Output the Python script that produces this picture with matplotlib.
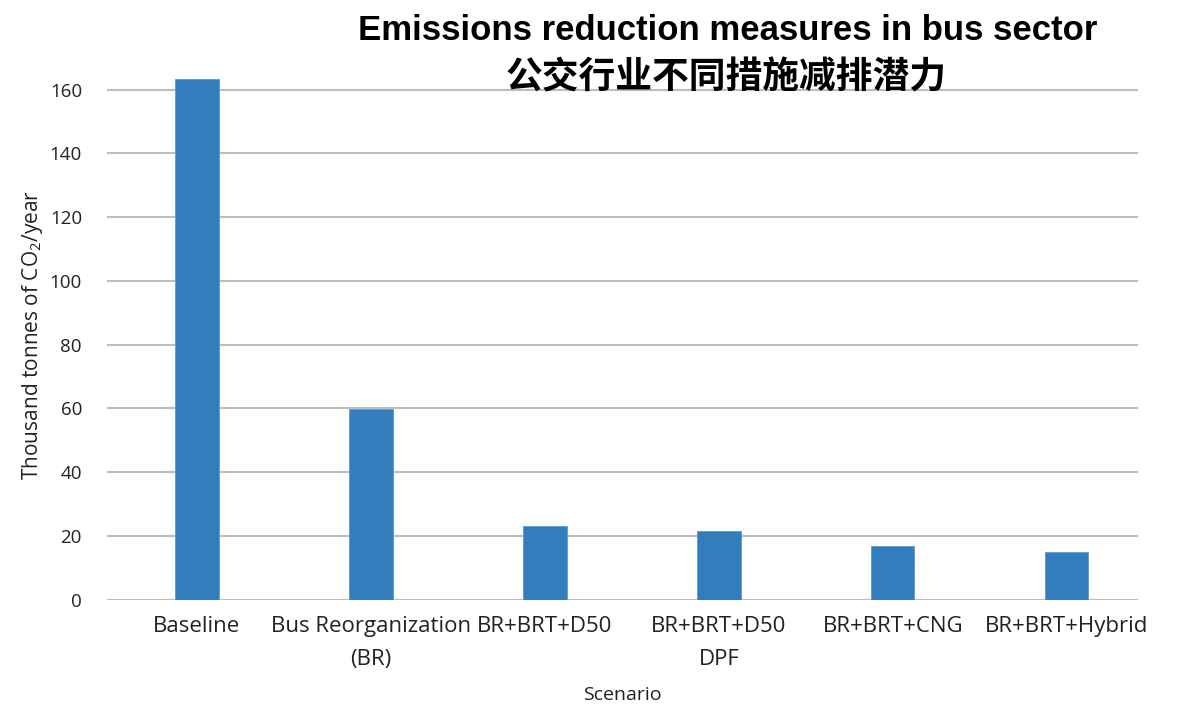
import matplotlib
matplotlib.use("Agg")
import matplotlib.pyplot as plt
import numpy as np

# Scenario data: annual CO2 emissions of the bus fleet (thousand tonnes)
scenarios = [
    "Baseline",
    "Bus Reorganization\n(BR)",
    "BR+BRT+D50",
    "BR+BRT+D50\nDPF",
    "BR+BRT+CNG",
    "BR+BRT+Hybrid",
]
emissions = [163.3, 59.8, 23.1, 21.5, 16.9, 14.8]
y_ticks = [0, 20, 40, 60, 80, 100, 120, 140, 160]

title_en = "Emissions reduction measures in bus sector"
title_zh = "公交行业不同措施减排潜力"

plt.rcParams["font.family"] = ["Open Sans", "DejaVu Sans"]
plt.rcParams["mathtext.default"] = "regular"

fig = plt.figure(figsize=(11.91, 7.04), dpi=100)
ax = fig.add_axes([0.0898, 0.1482, 0.8657, 0.7515])

x = np.arange(len(scenarios))
ax.bar(x, emissions, width=0.25, color="#337dbd", edgecolor="#5b9bd5",
       linewidth=0.6, zorder=3)

ax.set_xlim(-0.517, 5.41)
ax.set_ylim(0, 166)
ax.set_yticks(y_ticks)
ax.set_yticklabels([str(v) for v in y_ticks])
ax.yaxis.grid(True, color="#bdbdbd", linewidth=1.5, zorder=0)
ax.set_axisbelow(True)
for s in ax.spines.values():
    s.set_visible(False)

ax.tick_params(axis="y", length=0, pad=18, labelsize=13.5, labelcolor="#222222")
ax.set_xticks(x)
ax.set_xticklabels(scenarios, fontsize=16, color="#222222", linespacing=1.7)
ax.tick_params(axis="x", length=0, pad=12)

ax.set_ylabel(r"Thousand tonnes of CO$_2$/year", fontsize=15, color="#222222")
ax.yaxis.set_label_coords(-0.060, 0.5)
ax.set_xlabel("Scenario", fontsize=14, color="#222222", labelpad=12)

fig.text(0.611, 0.957, title_en, ha="center", va="center",
         fontsize=25, fontweight="bold",
         family=["Liberation Sans", "DejaVu Sans"])
fig.text(0.610, 0.889, title_zh, ha="center", va="center",
         fontsize=26.5, fontweight="bold",
         family=["Noto Sans CJK SC", "DejaVu Sans"])

fig.savefig("out.png", dpi=100, facecolor="white")
